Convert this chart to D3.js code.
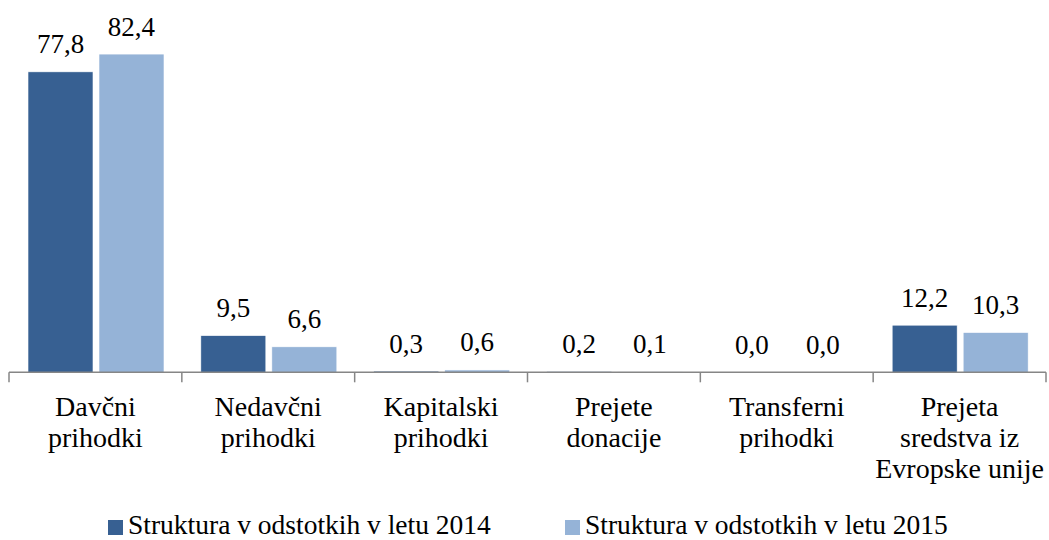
<!DOCTYPE html>
<html><head><meta charset="utf-8">
<script src="https://cdn.jsdelivr.net/npm/d3@7"></script>
<style>body{margin:0;background:#fff}svg{display:block}</style>
</head><body>
<svg id="c" width="1049" height="540" font-family="'Liberation Serif', 'Times New Roman', 'DejaVu Serif', serif"></svg>
<script>
const categories = [["Davčni","prihodki"],["Nedavčni","prihodki"],["Kapitalski","prihodki"],["Prejete","donacije"],["Transferni","prihodki"],["Prejeta","sredstva iz","Evropske unije"]];
const seriesNames = ["Struktura v odstotkih v letu 2014","Struktura v odstotkih v letu 2015"];
const values2014 = [77.8, 9.5, 0.3, 0.2, 0.0, 12.2];
const values2015 = [82.4, 6.6, 0.6, 0.1, 0.0, 10.3];
const colors = ["#376092","#95B3D7"];

const svg = d3.select("#c");
const left = 9, right = 1046, base = 372.3;
const x0 = d3.scaleBand().domain(d3.range(categories.length)).range([left,right]).paddingInner(0).paddingOuter(0);
const x1 = d3.scaleBand().domain([0,1]).range([19, 155]).paddingInner(0.0845);
const y = d3.scaleLinear().domain([0,90]).range([base, base-90*3.862]);
const series = [values2014, values2015];

const g = svg.append("g");
series.forEach((vals,si)=>{
  g.selectAll(null).data(vals).enter().append("rect")
    .attr("x",(d,i)=>x0(i)+x1(si))
    .attr("y",d=>y(d))
    .attr("width",x1.bandwidth())
    .attr("height",d=>base-y(d))
    .attr("fill",colors[si])
    .attr("stroke","#fff").attr("stroke-width",0.6);
  g.selectAll(null).data(vals).enter().append("text")
    .attr("x",(d,i)=>x0(i)+x1(si)+x1.bandwidth()/2)
    .attr("y",d=>y(d)-18.5)
    .attr("text-anchor","middle")
    .attr("font-size",27)
    .text(d=>d.toFixed(1).replace(".",","));
});

// axis
const ax = svg.append("g").attr("transform",`translate(0,${base})`);
ax.append("line").attr("x1",left).attr("x2",right).attr("stroke","#868686").attr("stroke-width",1.5);
const ticks = d3.range(categories.length+1).map(i=> i<categories.length ? x0(i) : right);
ax.selectAll(null).data(ticks).enter().append("line")
  .attr("x1",d=>d).attr("x2",d=>d).attr("y1",0).attr("y2",10)
  .attr("stroke","#868686").attr("stroke-width",1.5);

categories.forEach((lines,i)=>{
  const t = svg.append("text").attr("text-anchor","middle").attr("font-size",28);
  lines.forEach((l,j)=>{
    t.append("tspan").attr("x",x0(i)+x0.bandwidth()/2).attr("y",416+j*31).text(l);
  });
});

// legend
const legX = [108, 565];
seriesNames.forEach((n,i)=>{
  svg.append("rect").attr("x",legX[i]).attr("y",520).attr("width",15).attr("height",15).attr("fill",colors[i]);
  svg.append("text").attr("x",legX[i]+20).attr("y",534).attr("font-size",27.5).text(n);
});
</script>
</body></html>
